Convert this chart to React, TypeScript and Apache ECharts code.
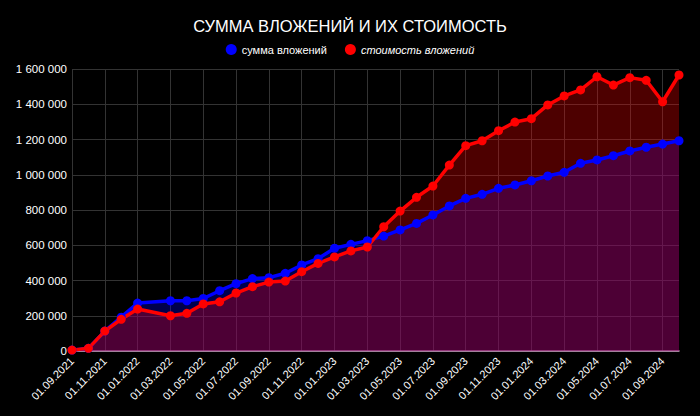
import * as echarts from "echarts";
import React, { useEffect, useRef } from "react";

const categories = [
  "01.09.2021", "01.10.2021", "01.11.2021", "01.12.2021",
  "01.01.2022", "01.02.2022", "01.03.2022", "01.04.2022", "01.05.2022", "01.06.2022",
  "01.07.2022", "01.08.2022", "01.09.2022", "01.10.2022", "01.11.2022", "01.12.2022",
  "01.01.2023", "01.02.2023", "01.03.2023", "01.04.2023", "01.05.2023", "01.06.2023",
  "01.07.2023", "01.08.2023", "01.09.2023", "01.10.2023", "01.11.2023", "01.12.2023",
  "01.01.2024", "01.02.2024", "01.03.2024", "01.04.2024", "01.05.2024", "01.06.2024",
  "01.07.2024", "01.08.2024", "01.09.2024", "01.10.2024",
];

// сумма вложений
const invested = [
  5000, 15000, 113000, 192000,
  272000, null, 285000, 285000, 298000, 342000,
  382000, 411000, 416000, 441000, 488000, 524000,
  583000, 605000, 626000, 652000, 687000, 724000,
  772000, 823000, 866000, 889000, 923000, 942000,
  966000, 993000, 1014000, 1065000, 1084000, 1108000,
  1135000, 1156000, 1174000, 1193000,
];

// стоимость вложений
const value = [
  5000, 15000, 113000, 180000,
  238000, null, 200000, 214000, 267000, 279000,
  329000, 365000, 391000, 397000, 450000, 497000,
  534000, 568000, 590000, 705000, 794000, 872000,
  936000, 1055000, 1165000, 1193000, 1250000, 1299000,
  1318000, 1396000, 1447000, 1481000, 1556000, 1509000,
  1551000, 1536000, 1414000, 1566000,
];

const formatNumber = (v: number) =>
  String(v).replace(/\B(?=(\d{3})+(?!\d))/g, " ");

const App: React.FC = () => {
  const chartRef = useRef<HTMLDivElement | null>(null);

  useEffect(() => {
    const chart = echarts.init(chartRef.current, null, { renderer: "svg" });
    chart.setOption({
      animation: false,
      backgroundColor: "#000",
      textStyle: { fontFamily: "'Liberation Sans', Arial, sans-serif" },
      title: {
        text: "СУММА ВЛОЖЕНИЙ И ИХ СТОИМОСТЬ",
        left: "center",
        top: 12,
        textStyle: { color: "#fff", fontSize: 16.5, fontWeight: "normal" },
      },
      legend: {
        top: 39,
        left: "center",
        icon: "circle",
        itemWidth: 11,
        itemHeight: 11,
        itemGap: 18,
        textStyle: { color: "#fff", fontSize: 11 },
        data: [
          { name: "сумма вложений" },
          { name: "стоимость вложений", textStyle: { fontStyle: "italic" } },
        ],
      },
      grid: { left: 72, right: 21, top: 69, bottom: 65 },
      xAxis: {
        type: "category",
        boundaryGap: false,
        data: categories,
        axisLine: { lineStyle: { color: "#c89cc0", width: 1.5 } },
        axisTick: { show: false },
        axisLabel: {
          color: "#fff",
          fontSize: 11,
          rotate: 45,
          interval: 1,
          margin: 8,
        },
        splitLine: { show: true, lineStyle: { color: "#333" } },
      },
      yAxis: {
        type: "value",
        min: 0,
        max: 1600000,
        interval: 200000,
        axisLabel: {
          color: "#fff",
          fontSize: 11.5,
          margin: 5,
          formatter: (v: number) => formatNumber(v),
        },
        axisLine: { show: false },
        axisTick: { show: false },
        splitLine: { lineStyle: { color: "#333" } },
      },
      series: [
        {
          name: "сумма вложений",
          type: "line",
          data: invested,
          connectNulls: true,
          color: "#0000ff",
          symbol: "circle",
          symbolSize: 9,
          lineStyle: { width: 3.5, color: "#0000ff" },
          itemStyle: { color: "#0000ff" },
          areaStyle: { color: "#0000ff", opacity: 0.3 },
        },
        {
          name: "стоимость вложений",
          type: "line",
          data: value,
          connectNulls: true,
          color: "#ff0000",
          symbol: "circle",
          symbolSize: 9,
          lineStyle: { width: 3.5, color: "#ff0000" },
          itemStyle: { color: "#ff0000" },
          areaStyle: { color: "#ff0000", opacity: 0.3 },
        },
      ],
    });

    return () => {
      chart.dispose();
    };
  }, []);

  return (
    <div
      ref={chartRef}
      style={{ position: "absolute", left: 0, top: 0, width: "700px", height: "416px" }}
    ></div>
  );
};

export default App;
